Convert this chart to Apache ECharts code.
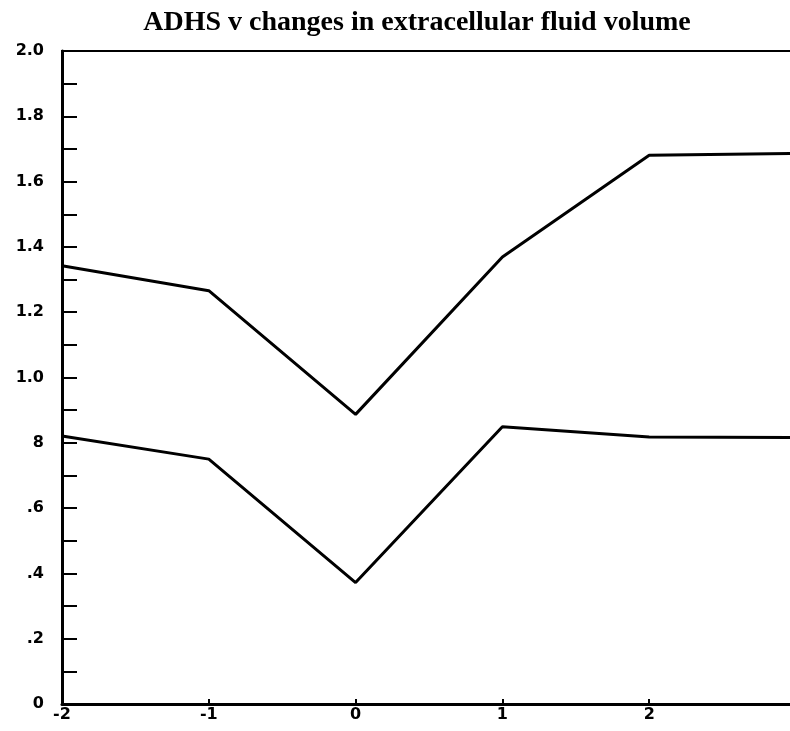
<!DOCTYPE html>
<html>
<head>
<meta charset="utf-8">
<script src="https://cdn.jsdelivr.net/npm/echarts@6/dist/echarts.min.js"></script>
<style>
  html, body { margin: 0; padding: 0; background: #fff; }
  #chart { width: 790px; height: 731px; }
</style>
</head>
<body>
<div id="chart"></div>
<script>
// Time points along the horizontal axis
var xValues = [-2, -1, 0, 1, 2, 3];
// Upper trace
var upperSeries = [1.342, 1.266, 0.887, 1.369, 1.681, 1.686];
// Lower trace
var lowerSeries = [0.821, 0.750, 0.372, 0.849, 0.818, 0.816];
// Vertical tick labels, keyed by value
var yTickLabels = {
  '2': '2.0', '1.8': '1.8', '1.6': '1.6', '1.4': '1.4', '1.2': '1.2',
  '1': '1.0', '0.8': '8', '0.6': '.6', '0.4': '.4', '0.2': '.2', '0': '0'
};
var xTickLabels = ['-2', '-1', '0', '1', '2', '3'];

function pairs(ys) {
  return xValues.map(function (x, i) { return [x, ys[i]]; });
}

var chart = echarts.init(document.getElementById('chart'), null, { renderer: 'canvas' });
chart.setOption({
  animation: false,
  backgroundColor: '#ffffff',
  title: {
    text: 'ADHS v changes in extracellular fluid volume',
    left: 412,
    textAlign: 'center',
    top: 4,
    textStyle: {
      fontFamily: 'Liberation Serif',
      fontWeight: 'bold',
      fontSize: 28,
      color: '#000'
    }
  },
  grid: {
    left: 62, top: 51, right: -6, bottom: 27,
    outerBoundsMode: 'none',
    containLabel: false,
    show: true, borderColor: '#000', borderWidth: 2, backgroundColor: 'transparent'
  },
  xAxis: {
    type: 'value',
    min: -2, max: 3, interval: 1,
    axisLine: { show: true, onZero: false, lineStyle: { color: '#000', width: 3 } },
    axisTick: { show: true, inside: true, length: 5, lineStyle: { color: '#000', width: 2 } },
    splitLine: { show: false },
    axisLabel: {
      margin: 3,
      color: '#000',
      fontFamily: 'DejaVu Sans',
      fontWeight: 'bold',
      fontSize: 16,
      formatter: function (v) {
        var i = xValues.indexOf(Math.round(v));
        return i >= 0 ? xTickLabels[i] : '';
      }
    }
  },
  yAxis: {
    type: 'value',
    min: 0, max: 2, interval: 0.1,
    axisLine: { show: true, onZero: false, lineStyle: { color: '#000', width: 3 } },
    axisTick: { show: true, inside: true, length: 15, lineStyle: { color: '#000', width: 2 } },
    splitLine: { show: false },
    axisLabel: {
      margin: 18,
      color: '#000',
      fontFamily: 'DejaVu Sans',
      fontWeight: 'bold',
      fontSize: 16,
      formatter: function (v) {
        var key = String(Math.round(v * 10) / 10);
        return yTickLabels.hasOwnProperty(key) && Math.round(v * 10) % 2 === 0 ? yTickLabels[key] : '';
      }
    }
  },
  series: [
    {
      type: 'line', data: pairs(upperSeries), symbol: 'none',
      lineStyle: { color: '#000', width: 3 }
    },
    {
      type: 'line', data: pairs(lowerSeries), symbol: 'none',
      lineStyle: { color: '#000', width: 3 }
    }
  ]
});
</script>
</body>
</html>
